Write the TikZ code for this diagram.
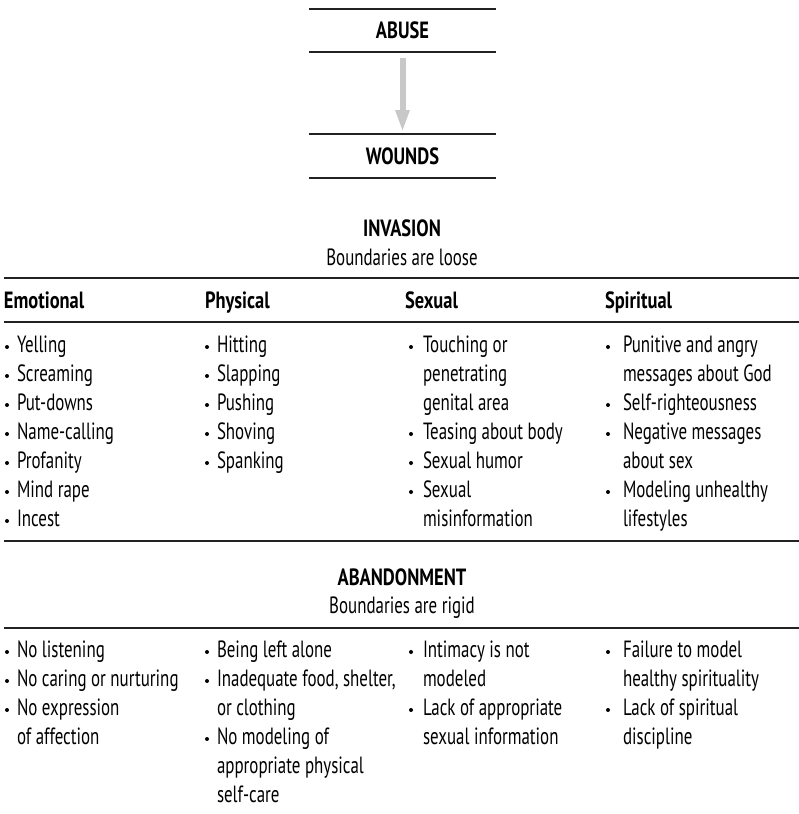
\documentclass[tikz,border=0pt]{standalone}
\usepackage{fontspec}
\setmainfont{PT Sans}[FakeStretch=0.72]
\newfontfamily\headfont{PT Sans}[FakeStretch=0.785]
\usetikzlibrary{arrows.meta}
\definecolor{rulegray}{HTML}{222222}
\definecolor{arrowgray}{HTML}{C8C8C8}
\newcommand\bodysize{\fontsize{23.5}{29}\selectfont}
\newcommand\boldsize{\headfont\fontsize{23.5}{29}\selectfont\bfseries}
\begin{document}
\begin{tikzpicture}[x=1pt,y=-1pt,
  every node/.style={inner sep=0pt, outer sep=0pt, text=black},
  itemtext/.style={anchor=base west, font=\bodysize},
  headtext/.style={anchor=base west, font=\boldsize},
  titletext/.style={anchor=base, font=\boldsize},
  subtext/.style={anchor=base, font=\bodysize},
  bul/.style={circle, fill=black, minimum size=4pt},
  rule/.style={draw=rulegray, line width=1.8pt},
  flowbox/.style={minimum width=187pt, font=\boldsize},
  flowarrow/.style={draw=arrowgray, line width=6pt,
    -{Triangle[length=22pt, width=13pt]}}
]
\useasboundingbox (0,0) rectangle (799,814);

% ---- Abuse -> Wounds ----
\node[flowbox, minimum height=43pt] (abuse) at (402.5,30.5) {ABUSE};
\node[flowbox, minimum height=44pt] (wounds) at (402.5,156) {WOUNDS};
\draw[rule] (abuse.north west) -- (abuse.north east);
\draw[rule] (abuse.south west) -- (abuse.south east);
\draw[rule] (wounds.north west) -- (wounds.north east);
\draw[rule] (wounds.south west) -- (wounds.south east);
\draw[flowarrow, shorten <=6pt, shorten >=2pt] (abuse.south) -- (wounds.north);

% ---- Invasion ----
\node[titletext] (inv) at (402,236) {INVASION};
\node[subtext] (invsub) at (402,265) {Boundaries are loose};
\coordinate (r1l) at (4,278);   \coordinate (r1r) at (799,278);
\coordinate (r2l) at (4,322);   \coordinate (r2r) at (799,322);
\coordinate (r3l) at (4,541);   \coordinate (r3r) at (799,541);
\draw[rule] (r1l) -- (r1r);
\draw[rule] (r2l) -- (r2r);
\draw[rule] (r3l) -- (r3r);

\node[headtext] (hemo) at (4,308) {Emotional};
\node[headtext] (hphy) at (205,308) {Physical};
\node[headtext] (hsex) at (405,308) {Sexual};
\node[headtext] (hspi) at (605,308) {Spiritual};

% Emotional
\node[bul] (eb1) at (7,347) {}; \node[itemtext] (e1) at (17,352) {Yelling};
\node[bul] (eb2) at (7,376) {}; \node[itemtext] (e2) at (17,381) {Screaming};
\node[bul] (eb3) at (7,405) {}; \node[itemtext] (e3) at (17,410) {Put-downs};
\node[bul] (eb4) at (7,434) {}; \node[itemtext] (e4) at (17,439) {Name-calling};
\node[bul] (eb5) at (7,463) {}; \node[itemtext] (e5) at (17,468) {Profanity};
\node[bul] (eb6) at (7,492) {}; \node[itemtext] (e6) at (17,497) {Mind rape};
\node[bul] (eb7) at (7,521) {}; \node[itemtext] (e7) at (17,526) {Incest};

% Physical
\node[bul] (pb1) at (207,347) {}; \node[itemtext] (p1) at (217,352) {Hitting};
\node[bul] (pb2) at (207,376) {}; \node[itemtext] (p2) at (217,381) {Slapping};
\node[bul] (pb3) at (207,405) {}; \node[itemtext] (p3) at (217,410) {Pushing};
\node[bul] (pb4) at (207,434) {}; \node[itemtext] (p4) at (217,439) {Shoving};
\node[bul] (pb5) at (207,463) {}; \node[itemtext] (p5) at (217,468) {Spanking};

% Sexual
\node[bul] (sb1) at (411,347) {}; \node[itemtext] (s1) at (423,352) {Touching or};
\node[itemtext] (s1b) at (423,381) {penetrating};
\node[itemtext] (s1c) at (423,410) {genital area};
\node[bul] (sb2) at (411,434) {}; \node[itemtext] (s2) at (423,439) {Teasing about body};
\node[bul] (sb3) at (411,463) {}; \node[itemtext] (s3) at (423,468) {Sexual humor};
\node[bul] (sb4) at (411,492) {}; \node[itemtext] (s4) at (423,497) {Sexual};
\node[itemtext] (s4b) at (423,526) {misinformation};

% Spiritual
\node[bul] (tb1) at (608,347) {}; \node[itemtext] (t1) at (623,352) {Punitive and angry};
\node[itemtext] (t1b) at (623,381) {messages about God};
\node[bul] (tb2) at (608,405) {}; \node[itemtext] (t2) at (623,410) {Self-righteousness};
\node[bul] (tb3) at (608,434) {}; \node[itemtext] (t3) at (623,439) {Negative messages};
\node[itemtext] (t3b) at (623,468) {about sex};
\node[bul] (tb4) at (608,492) {}; \node[itemtext] (t4) at (623,497) {Modeling unhealthy};
\node[itemtext] (t4b) at (623,526) {lifestyles};

% ---- Abandonment ----
\node[titletext] (aban) at (402,585) {ABANDONMENT};
\node[subtext] (abansub) at (402,613) {Boundaries are rigid};
\coordinate (r4l) at (4,628);   \coordinate (r4r) at (799,628);
\draw[rule] (r4l) -- (r4r);

\node[bul] (ab1) at (7,652) {}; \node[itemtext] (a1) at (17,657) {No listening};
\node[bul] (ab2) at (7,681) {}; \node[itemtext] (a2) at (17,686) {No caring or nurturing};
\node[bul] (ab3) at (7,710) {}; \node[itemtext] (a3) at (17,715) {No expression};
\node[itemtext] (a3b) at (17,744) {of affection};

\node[bul] (bb1) at (207,652) {}; \node[itemtext] (b1) at (217,657) {Being left alone};
\node[bul] (bb2) at (207,681) {}; \node[itemtext] (b2) at (217,686) {Inadequate food, shelter,};
\node[itemtext] (b2b) at (217,715) {or clothing};
\node[bul] (bb3) at (207,739) {}; \node[itemtext] (b3) at (217,744) {No modeling of};
\node[itemtext] (b3b) at (217,773) {appropriate physical};
\node[itemtext] (b3c) at (217,802) {self-care};

\node[bul] (cb1) at (411,652) {}; \node[itemtext] (c1) at (423,657) {Intimacy is not};
\node[itemtext] (c1b) at (423,686) {modeled};
\node[bul] (cb2) at (411,710) {}; \node[itemtext] (c2) at (423,715) {Lack of appropriate};
\node[itemtext] (c2b) at (423,744) {sexual information};

\node[bul] (db1) at (608,652) {}; \node[itemtext] (d1) at (623,657) {Failure to model};
\node[itemtext] (d1b) at (623,686) {healthy spirituality};
\node[bul] (db2) at (608,710) {}; \node[itemtext] (d2) at (623,715) {Lack of spiritual};
\node[itemtext] (d2b) at (623,744) {discipline};
\end{tikzpicture}
\end{document}
